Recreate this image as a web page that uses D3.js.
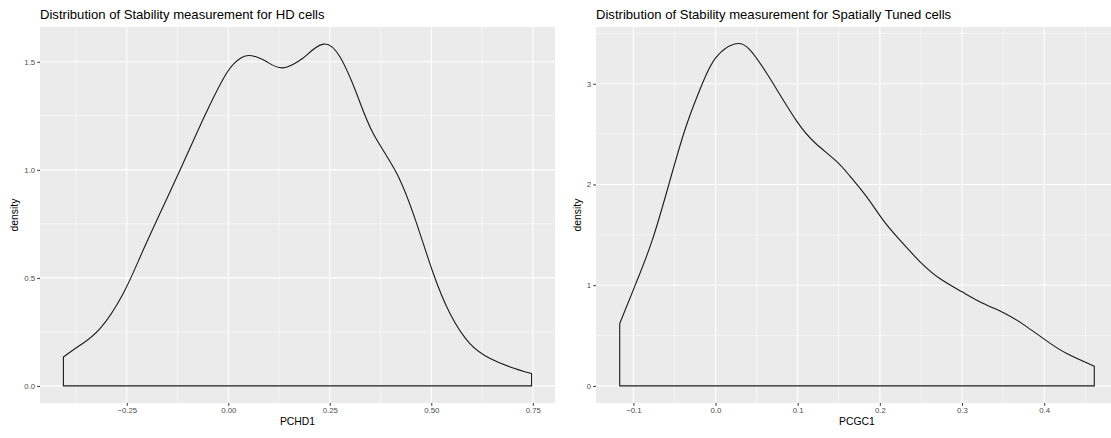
<!DOCTYPE html>
<html>
<head>
<meta charset="utf-8">
<script src="https://cdn.jsdelivr.net/npm/d3@7"></script>
<style>
  html, body { margin: 0; padding: 0; background: #ffffff; }
  svg { display: block; font-family: "Liberation Sans", Arial, Helvetica, sans-serif; }
</style>
</head>
<body>
<svg id="chart" width="1111" height="438"></svg>
<script>
// Kernel density estimate of PCHD1 (head-direction cells)
const hdX = [-0.406, -0.365, -0.316, -0.259, -0.217, -0.176, -0.119, -0.078, -0.037, -0.004,
             0.014, 0.031, 0.049, 0.070, 0.095, 0.135, 0.177, 0.193, 0.234, 0.275, 0.316, 0.357, 0.415,
             0.464, 0.505, 0.546, 0.595, 0.645, 0.694, 0.747];
const hdDensity = [0.134, 0.188, 0.265, 0.427, 0.597, 0.767, 0.998, 1.168, 1.332, 1.448,
                   1.492, 1.518, 1.529, 1.522, 1.500, 1.472, 1.508, 1.531, 1.582, 1.523, 1.353, 1.168, 0.983,
                   0.751, 0.520, 0.335, 0.196, 0.127, 0.088, 0.057];

// Kernel density estimate of PCGC1 (spatially tuned cells)
const gcX = [-0.1166, -0.097, -0.077, -0.0565, -0.036, -0.016, 0.0004, 0.023, 0.041, 0.065, 0.098,
             0.122, 0.147, 0.1636, 0.184, 0.204, 0.2245, 0.249, 0.273, 0.300, 0.326, 0.354, 0.379,
             0.403, 0.4275, 0.461];
const gcDensity = [0.619, 1.016, 1.447, 2.010, 2.573, 3.003, 3.260, 3.394, 3.345, 3.069, 2.639,
                   2.407, 2.232, 2.083, 1.877, 1.646, 1.447, 1.232, 1.066, 0.934, 0.818, 0.712, 0.586,
                   0.447, 0.321, 0.196];

// Axis breaks
const hdXTicks = [-0.25, 0.00, 0.25, 0.50, 0.75];
const hdXMinor = [-0.375, -0.125, 0.125, 0.375, 0.625];
const hdYTicks = [0.0, 0.5, 1.0, 1.5];
const hdYMinor = [0.25, 0.75, 1.25];

const gcXTicks = [-0.1, 0.0, 0.1, 0.2, 0.3, 0.4];
const gcXMinor = [-0.05, 0.05, 0.15, 0.25, 0.35, 0.45];
const gcYTicks = [0, 1, 2, 3];
const gcYMinor = [0.5, 1.5, 2.5, 3.5];

const svg = d3.select("#chart");

function expand(lo, hi, k) { const e = (hi - lo) * k; return [lo - e, hi + e]; }

function drawPanel(cfg) {
  const { left, right, top, bottom } = cfg.box;
  const xDom = expand(d3.min(cfg.x), d3.max(cfg.x), 0.05);
  const yDom = expand(0, d3.max(cfg.y), 0.05);
  const x = d3.scaleLinear().domain(xDom).range([left, right]);
  const y = d3.scaleLinear().domain(yDom).range([bottom, top]);

  const g = svg.append("g");
  const clipId = "clip-" + cfg.id;
  svg.append("clipPath").attr("id", clipId)
    .append("rect").attr("x", left).attr("y", top)
    .attr("width", right - left).attr("height", bottom - top);

  g.append("rect").attr("x", left).attr("y", top)
    .attr("width", right - left).attr("height", bottom - top)
    .attr("fill", "#EBEBEB");

  const grid = g.append("g").attr("clip-path", `url(#${clipId})`);
  // minor grid
  grid.selectAll(".vminor").data(cfg.xMinor).join("line")
    .attr("x1", d => x(d)).attr("x2", d => x(d)).attr("y1", top).attr("y2", bottom)
    .attr("stroke", "#ffffff").attr("stroke-width", 0.55);
  grid.selectAll(".hminor").data(cfg.yMinor).join("line")
    .attr("y1", d => y(d)).attr("y2", d => y(d)).attr("x1", left).attr("x2", right)
    .attr("stroke", "#ffffff").attr("stroke-width", 0.55);
  // major grid
  grid.selectAll(".vmajor").data(cfg.xTicks).join("line")
    .attr("x1", d => x(d)).attr("x2", d => x(d)).attr("y1", top).attr("y2", bottom)
    .attr("stroke", "#ffffff").attr("stroke-width", 1.1);
  grid.selectAll(".hmajor").data(cfg.yTicks).join("line")
    .attr("y1", d => y(d)).attr("y2", d => y(d)).attr("x1", left).attr("x2", right)
    .attr("stroke", "#ffffff").attr("stroke-width", 1.1);

  // density outline (closed to the baseline)
  const pts = cfg.x.map((v, i) => [v, cfg.y[i]]);
  const area = d3.area()
    .x(d => x(d[0])).y0(y(0)).y1(d => y(d[1]))
    .curve(d3.curveNatural);
  grid.append("path").datum(pts)
    .attr("d", area)
    .attr("fill", "none")
    .attr("stroke", "#1a1a1a")
    .attr("stroke-width", 1.1)
    .attr("stroke-linejoin", "miter");

  // axes
  const xAxis = d3.axisBottom(x).tickValues(cfg.xTicks).tickFormat(cfg.xFmt)
    .tickSizeInner(2.8).tickSizeOuter(0).tickPadding(2);
  const yAxis = d3.axisLeft(y).tickValues(cfg.yTicks).tickFormat(cfg.yFmt)
    .tickSizeInner(2.8).tickSizeOuter(0).tickPadding(2);

  const gx = g.append("g").attr("transform", `translate(0,${bottom})`).call(xAxis);
  const gy = g.append("g").attr("transform", `translate(${left},0)`).call(yAxis);
  [gx, gy].forEach(a => {
    a.select(".domain").remove();
    a.selectAll(".tick line").attr("stroke", "#333333").attr("stroke-width", 1);
    a.selectAll(".tick text").attr("fill", "#4D4D4D")
      .style("font-size", "7.8px")
      .style("font-family", "'Liberation Sans', Arial, sans-serif");
  });

  // titles
  g.append("text").attr("x", left).attr("y", 19)
    .attr("fill", "#000").style("font-size", "13.1px")
    .text(cfg.title);
  g.append("text").attr("x", (left + right) / 2).attr("y", 425)
    .attr("text-anchor", "middle").attr("fill", "#000").style("font-size", "10.4px")
    .text(cfg.xLabel);
  g.append("text")
    .attr("transform", `translate(${cfg.yLabelX},${(top + bottom) / 2}) rotate(-90)`)
    .attr("text-anchor", "middle").attr("fill", "#000").style("font-size", "10.4px")
    .text("density");
}

drawPanel({
  id: "hd",
  box: { left: 40, right: 555, top: 27, bottom: 403 },
  x: hdX, y: hdDensity,
  xTicks: hdXTicks, xMinor: hdXMinor, yTicks: hdYTicks, yMinor: hdYMinor,
  xFmt: d3.format(".2f"), yFmt: d3.format(".1f"),
  title: "Distribution of Stability measurement for HD cells",
  xLabel: "PCHD1",
  yLabelX: 17.5
});

drawPanel({
  id: "gc",
  box: { left: 596, right: 1118, top: 27, bottom: 403 },
  x: gcX, y: gcDensity,
  xTicks: gcXTicks, xMinor: gcXMinor, yTicks: gcYTicks, yMinor: gcYMinor,
  xFmt: d3.format(".1f"), yFmt: d3.format("d"),
  title: "Distribution of Stability measurement for Spatially Tuned cells",
  xLabel: "PCGC1",
  yLabelX: 580.5
});
</script>
</body>
</html>
